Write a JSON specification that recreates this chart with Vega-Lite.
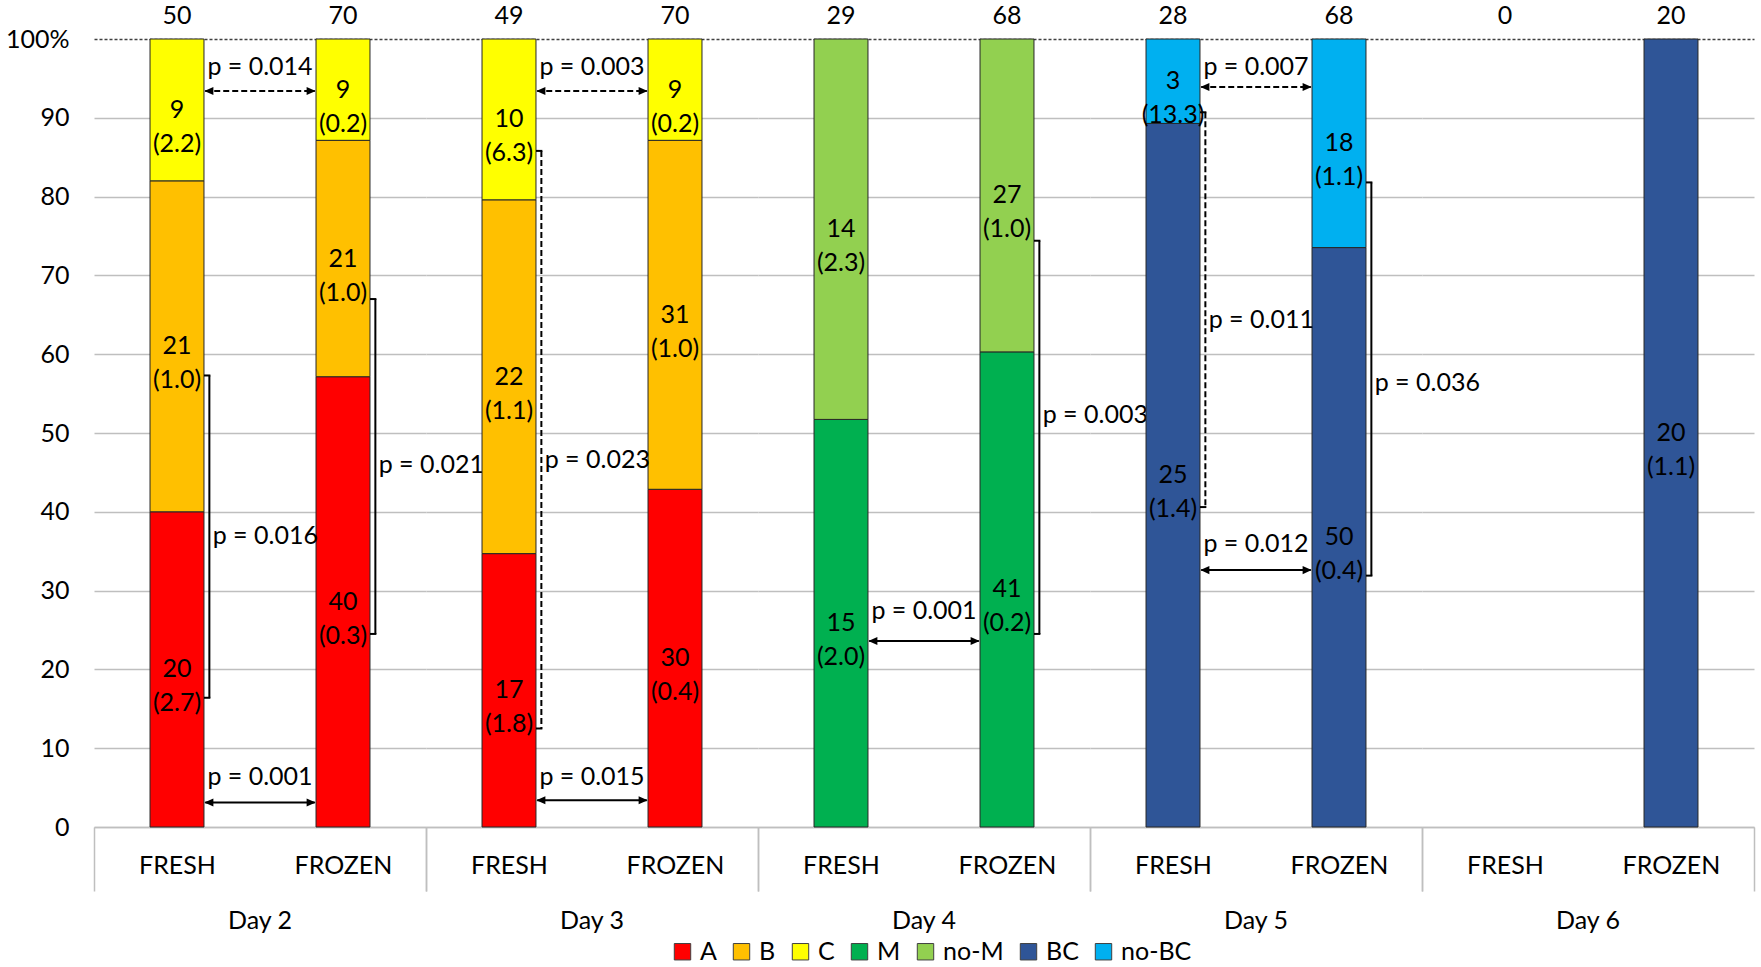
{
  "$schema": "https://vega.github.io/schema/vega-lite/v6.json",
  "background": "white",
  "padding": {"left": 5, "top": 4, "right": 5, "bottom": 5},
  "data": {
    "values": [
      {"kind": "seg", "day": "Day 2", "cond": "FRESH", "group": "A", "o": 1, "n": 20, "note": "(2.7)"},
      {"kind": "seg", "day": "Day 2", "cond": "FRESH", "group": "B", "o": 2, "n": 21, "note": "(1.0)"},
      {"kind": "seg", "day": "Day 2", "cond": "FRESH", "group": "C", "o": 3, "n": 9, "note": "(2.2)"},
      {"kind": "seg", "day": "Day 2", "cond": "FROZEN", "group": "A", "o": 1, "n": 40, "note": "(0.3)"},
      {"kind": "seg", "day": "Day 2", "cond": "FROZEN", "group": "B", "o": 2, "n": 21, "note": "(1.0)"},
      {"kind": "seg", "day": "Day 2", "cond": "FROZEN", "group": "C", "o": 3, "n": 9, "note": "(0.2)"},
      {"kind": "seg", "day": "Day 3", "cond": "FRESH", "group": "A", "o": 1, "n": 17, "note": "(1.8)"},
      {"kind": "seg", "day": "Day 3", "cond": "FRESH", "group": "B", "o": 2, "n": 22, "note": "(1.1)"},
      {"kind": "seg", "day": "Day 3", "cond": "FRESH", "group": "C", "o": 3, "n": 10, "note": "(6.3)"},
      {"kind": "seg", "day": "Day 3", "cond": "FROZEN", "group": "A", "o": 1, "n": 30, "note": "(0.4)"},
      {"kind": "seg", "day": "Day 3", "cond": "FROZEN", "group": "B", "o": 2, "n": 31, "note": "(1.0)"},
      {"kind": "seg", "day": "Day 3", "cond": "FROZEN", "group": "C", "o": 3, "n": 9, "note": "(0.2)"},
      {"kind": "seg", "day": "Day 4", "cond": "FRESH", "group": "M", "o": 1, "n": 15, "note": "(2.0)"},
      {"kind": "seg", "day": "Day 4", "cond": "FRESH", "group": "no-M", "o": 2, "n": 14, "note": "(2.3)"},
      {"kind": "seg", "day": "Day 4", "cond": "FROZEN", "group": "M", "o": 1, "n": 41, "note": "(0.2)"},
      {"kind": "seg", "day": "Day 4", "cond": "FROZEN", "group": "no-M", "o": 2, "n": 27, "note": "(1.0)"},
      {"kind": "seg", "day": "Day 5", "cond": "FRESH", "group": "BC", "o": 1, "n": 25, "note": "(1.4)"},
      {"kind": "seg", "day": "Day 5", "cond": "FRESH", "group": "no-BC", "o": 2, "n": 3, "note": "(13.3)"},
      {"kind": "seg", "day": "Day 5", "cond": "FROZEN", "group": "BC", "o": 1, "n": 50, "note": "(0.4)"},
      {"kind": "seg", "day": "Day 5", "cond": "FROZEN", "group": "no-BC", "o": 2, "n": 18, "note": "(1.1)"},
      {"kind": "seg", "day": "Day 6", "cond": "FROZEN", "group": "BC", "o": 1, "n": 20, "note": "(1.1)"},
      {"kind": "total", "day": "Day 2", "cond": "FRESH", "tot": 50},
      {"kind": "total", "day": "Day 2", "cond": "FROZEN", "tot": 70},
      {"kind": "total", "day": "Day 3", "cond": "FRESH", "tot": 49},
      {"kind": "total", "day": "Day 3", "cond": "FROZEN", "tot": 70},
      {"kind": "total", "day": "Day 4", "cond": "FRESH", "tot": 29},
      {"kind": "total", "day": "Day 4", "cond": "FROZEN", "tot": 68},
      {"kind": "total", "day": "Day 5", "cond": "FRESH", "tot": 28},
      {"kind": "total", "day": "Day 5", "cond": "FROZEN", "tot": 68},
      {"kind": "total", "day": "Day 6", "cond": "FRESH", "tot": 0},
      {"kind": "total", "day": "Day 6", "cond": "FROZEN", "tot": 20},
      {"kind": "arrow", "day": "Day 2", "cond": "FRESH", "ya": 0.934, "ty": 0.964, "p": "p = 0.014", "dash": "dashed"},
      {"kind": "arrow", "day": "Day 2", "cond": "FRESH", "ya": 0.031, "ty": 0.063, "p": "p = 0.001", "dash": "solid"},
      {"kind": "arrow", "day": "Day 3", "cond": "FRESH", "ya": 0.934, "ty": 0.964, "p": "p = 0.003", "dash": "dashed"},
      {"kind": "arrow", "day": "Day 3", "cond": "FRESH", "ya": 0.034, "ty": 0.063, "p": "p = 0.015", "dash": "solid"},
      {"kind": "arrow", "day": "Day 4", "cond": "FRESH", "ya": 0.236, "ty": 0.274, "p": "p = 0.001", "dash": "solid"},
      {"kind": "arrow", "day": "Day 5", "cond": "FRESH", "ya": 0.939, "ty": 0.964, "p": "p = 0.007", "dash": "dashed"},
      {"kind": "arrow", "day": "Day 5", "cond": "FRESH", "ya": 0.326, "ty": 0.359, "p": "p = 0.012", "dash": "solid"},
      {"kind": "bracket", "day": "Day 2", "cond": "FRESH", "ya": 0.573, "yb": 0.164, "ty": 0.369, "p": "p = 0.016", "dash": "solid"},
      {"kind": "bracket", "day": "Day 2", "cond": "FROZEN", "ya": 0.670, "yb": 0.245, "ty": 0.460, "p": "p = 0.021", "dash": "solid"},
      {"kind": "bracket", "day": "Day 3", "cond": "FRESH", "ya": 0.858, "yb": 0.125, "ty": 0.466, "p": "p = 0.023", "dash": "dashed"},
      {"kind": "bracket", "day": "Day 4", "cond": "FROZEN", "ya": 0.744, "yb": 0.245, "ty": 0.523, "p": "p = 0.003", "dash": "solid"},
      {"kind": "bracket", "day": "Day 5", "cond": "FRESH", "ya": 0.907, "yb": 0.406, "ty": 0.644, "p": "p = 0.011", "dash": "dashed"},
      {"kind": "bracket", "day": "Day 5", "cond": "FROZEN", "ya": 0.818, "yb": 0.319, "ty": 0.563, "p": "p = 0.036", "dash": "solid"}
    ]
  },
  "facet": {
    "column": {
      "field": "day",
      "type": "nominal",
      "sort": ["Day 2", "Day 3", "Day 4", "Day 5", "Day 6"],
      "title": null,
      "header": {
        "labelOrient": "bottom",
        "labelFont": "Lato",
        "labelFontSize": 25,
        "labelColor": "black",
        "labelPadding": 17
      }
    }
  },
  "spacing": 0,
  "bounds": "flush",
  "spec": {
    "width": 332,
    "height": 788,
    "layer": [
      {
        "transform": [{"filter": "datum.kind == 'seg'"}],
        "mark": {"type": "bar", "width": {"band": 0.325}, "stroke": "#262626", "strokeWidth": 1},
        "encoding": {
          "x": {
            "field": "cond",
            "type": "nominal",
            "title": null,
            "scale": {"domain": ["FRESH", "FROZEN"], "paddingInner": 0, "paddingOuter": 0},
            "axis": {
              "tickBand": "extent",
              "ticks": true,
              "tickSize": 64,
              "tickColor": "#bfbfbf",
              "tickWidth": 1.5,
              "tickOpacity": {"condition": {"test": "datum.value == 'FRESH'", "value": 0}, "value": 1},
              "domainColor": "#bfbfbf",
              "domainWidth": 1.5,
              "labelAngle": 0,
              "labelPadding": -38,
              "labelFont": "Lato",
              "labelFontSize": 25,
              "labelColor": "black",
              "grid": false
            }
          },
          "y": {
            "field": "n",
            "type": "quantitative",
            "stack": "normalize",
            "title": null,
            "scale": {"domain": [0, 1], "nice": false},
            "axis": {
              "values": [0, 0.1, 0.2, 0.3, 0.4, 0.5, 0.6, 0.7, 0.8, 0.9, 1],
              "labelExpr": "datum.value == 1 ? '100%' : format(datum.value * 100, '.0f')",
              "domain": false,
              "ticks": false,
              "labelPadding": 25,
              "labelFont": "Lato",
              "labelFontSize": 25,
              "labelColor": "black",
              "minExtent": 89,
              "maxExtent": 89,
              "grid": true,
              "gridColor": {"condition": {"test": "datum.value == 1", "value": "#404040"}, "value": "#bfbfbf"},
              "gridDash": {"condition": {"test": "datum.value == 1", "value": [3, 2]}, "value": []},
              "gridWidth": 1.5
            }
          },
          "color": {
            "field": "group",
            "type": "nominal",
            "scale": {
              "domain": ["A", "B", "C", "M", "no-M", "BC", "no-BC"],
              "range": ["#ff0000", "#ffc000", "#ffff00", "#00b050", "#92d050", "#2f5597", "#00b0f0"]
            },
            "legend": {
              "title": null,
              "orient": "none",
              "legendX": 576,
              "legendY": 900,
              "direction": "horizontal",
              "symbolType": "square",
              "symbolSize": 270,
              "symbolStrokeColor": "#404040",
              "symbolStrokeWidth": 1,
              "labelFont": "Lato",
              "labelFontSize": 25,
              "labelColor": "black",
              "labelOffset": 5,
              "columnPadding": 12
            }
          },
          "order": {"field": "o", "type": "quantitative"}
        }
      },
      {
        "transform": [{"filter": "datum.kind == 'seg'"}],
        "mark": {"type": "text", "baseline": "middle", "fontSize": 25, "color": "black"},
        "encoding": {
          "x": {"field": "cond", "type": "nominal", "title": null},
          "y": {"field": "n", "type": "quantitative", "stack": "normalize", "bandPosition": 0.5, "title": null},
          "detail": {"field": "group"},
          "order": {"field": "o", "type": "quantitative"},
          "text": {"field": "n", "type": "quantitative"}
        }
      },
      {
        "transform": [{"filter": "datum.kind == 'seg'"}],
        "mark": {"type": "text", "baseline": "middle", "fontSize": 25, "color": "black", "dy": 34},
        "encoding": {
          "x": {"field": "cond", "type": "nominal", "title": null},
          "y": {"field": "n", "type": "quantitative", "stack": "normalize", "bandPosition": 0.5, "title": null},
          "detail": {"field": "group"},
          "order": {"field": "o", "type": "quantitative"},
          "text": {"field": "note", "type": "nominal"}
        }
      },
      {
        "transform": [{"filter": "datum.kind == 'total'"}],
        "mark": {"type": "text", "baseline": "middle", "fontSize": 25, "color": "black", "dy": -23},
        "encoding": {
          "x": {"field": "cond", "type": "nominal", "title": null},
          "y": {"datum": 1, "type": "quantitative"},
          "text": {"field": "tot", "type": "quantitative"}
        }
      },
      {
        "transform": [{"filter": "datum.kind == 'arrow'"}],
        "mark": {"type": "rule", "color": "black", "strokeWidth": 2},
        "encoding": {
          "x": {"field": "cond", "type": "nominal", "bandPosition": 0.67, "title": null},
          "x2": {"field": "cond", "bandPosition": 1.33},
          "y": {"field": "ya", "type": "quantitative", "title": null},
          "strokeDash": {
            "field": "dash",
            "type": "nominal",
            "scale": {"domain": ["solid", "dashed"], "range": [[1, 0], [6, 3]]},
            "legend": null
          }
        }
      },
      {
        "transform": [{"filter": "datum.kind == 'arrow'"}],
        "mark": {"type": "point", "shape": "M0,0L2,-0.9L2,0.9Z", "size": 81, "filled": true, "opacity": 1, "color": "black", "strokeWidth": 0},
        "encoding": {
          "x": {"field": "cond", "type": "nominal", "bandPosition": 0.665, "title": null},
          "y": {"field": "ya", "type": "quantitative", "title": null}
        }
      },
      {
        "transform": [{"filter": "datum.kind == 'arrow'"}],
        "mark": {"type": "point", "shape": "M0,0L-2,-0.9L-2,0.9Z", "size": 81, "filled": true, "opacity": 1, "color": "black", "strokeWidth": 0},
        "encoding": {
          "x": {"field": "cond", "type": "nominal", "bandPosition": 1.335, "title": null},
          "y": {"field": "ya", "type": "quantitative", "title": null}
        }
      },
      {
        "transform": [{"filter": "datum.kind == 'arrow'"}],
        "mark": {"type": "text", "baseline": "middle", "align": "center", "fontSize": 25, "color": "black"},
        "encoding": {
          "x": {"field": "cond", "type": "nominal", "bandPosition": 1, "title": null},
          "y": {"field": "ty", "type": "quantitative", "title": null},
          "text": {"field": "p", "type": "nominal"}
        }
      },
      {
        "transform": [{"filter": "datum.kind == 'bracket'"}],
        "mark": {"type": "rule", "color": "black", "strokeWidth": 2},
        "encoding": {
          "x": {"field": "cond", "type": "nominal", "bandPosition": 0.695, "title": null},
          "y": {"field": "ya", "type": "quantitative", "title": null},
          "y2": {"field": "yb"},
          "strokeDash": {
            "field": "dash",
            "type": "nominal",
            "scale": {"domain": ["solid", "dashed"], "range": [[1, 0], [6, 3]]},
            "legend": null
          }
        }
      },
      {
        "transform": [{"filter": "datum.kind == 'bracket'"}],
        "mark": {"type": "rule", "color": "black", "strokeWidth": 2},
        "encoding": {
          "x": {"field": "cond", "type": "nominal", "bandPosition": 0.6625, "title": null},
          "x2": {"field": "cond", "bandPosition": 0.701},
          "y": {"field": "ya", "type": "quantitative", "title": null}
        }
      },
      {
        "transform": [{"filter": "datum.kind == 'bracket'"}],
        "mark": {"type": "rule", "color": "black", "strokeWidth": 2},
        "encoding": {
          "x": {"field": "cond", "type": "nominal", "bandPosition": 0.6625, "title": null},
          "x2": {"field": "cond", "bandPosition": 0.701},
          "y": {"field": "yb", "type": "quantitative", "title": null}
        }
      },
      {
        "transform": [{"filter": "datum.kind == 'bracket'"}],
        "mark": {"type": "text", "baseline": "middle", "align": "left", "fontSize": 25, "color": "black"},
        "encoding": {
          "x": {"field": "cond", "type": "nominal", "bandPosition": 0.715, "title": null},
          "y": {"field": "ty", "type": "quantitative", "title": null},
          "text": {"field": "p", "type": "nominal"}
        }
      }
    ]
  },
  "config": {
    "font": "Lato",
    "view": {"stroke": null},
    "text": {"font": "Lato"}
  }
}
